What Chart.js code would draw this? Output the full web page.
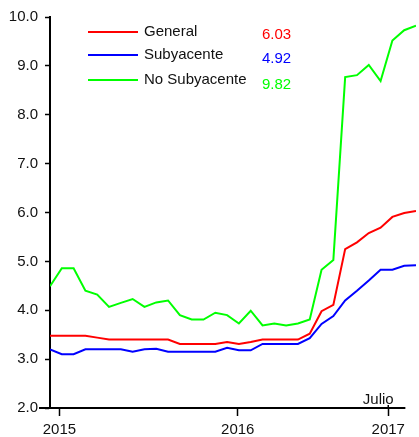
<!DOCTYPE html>
<html>
<head>
<meta charset="utf-8">
<script src="https://cdn.jsdelivr.net/npm/chart.js@4"></script>
<style>
  html, body { margin: 0; padding: 0; background: #fff; }
  canvas { display: block; }
</style>
</head>
<body>
<canvas id="grafico" width="419" height="437"></canvas>
<script>
// series (una observación por mes)
const general = [3.48, 3.48, 3.48, 3.48, 3.44, 3.40, 3.40, 3.40, 3.40, 3.40, 3.40, 3.31, 3.31, 3.31, 3.31, 3.35,
                 3.31, 3.35, 3.40, 3.40, 3.40, 3.40, 3.52, 3.98, 4.11, 5.25, 5.39, 5.58, 5.69, 5.91, 5.99, 6.03];
const subyacente = [3.20, 3.10, 3.10, 3.20, 3.20, 3.20, 3.20, 3.15, 3.20, 3.21, 3.15, 3.15, 3.15, 3.15, 3.15, 3.23,
                    3.18, 3.18, 3.31, 3.31, 3.31, 3.31, 3.43, 3.72, 3.88, 4.20, 4.40, 4.61, 4.83, 4.83, 4.91, 4.92];
const noSubyacente = [4.49, 4.86, 4.86, 4.40, 4.32, 4.07, 4.15, 4.23, 4.07, 4.16, 4.20, 3.90, 3.81, 3.81, 3.95, 3.90,
                      3.73, 3.99, 3.69, 3.73, 3.69, 3.73, 3.81, 4.83, 5.03, 8.77, 8.81, 9.02, 8.69, 9.52, 9.73, 9.82];

const nombres = ['General', 'Subyacente', 'No Subyacente'];
const colores = ['#ff0000', '#0000ff', '#00ff00'];

// etiquetas del eje x y su posición (en meses desde el primer dato)
const anios = ['2015', '2016', '2017'];
const posAnios = [0.8, 15.9, 28.65];
const notaMes = 'Julio';

const fuente = 'Liberation Sans, Arial, sans-serif';
const series = [general, subyacente, noSubyacente];

const aPuntos = arr => arr.map((v, i) => ({ x: i, y: v }));

// dibuja eje x, leyenda con último valor y la nota "Julio"
const extras = {
    id: 'extras',
    afterDraw(chart) {
        const ctx = chart.ctx;
        const area = chart.chartArea;
        const xs = chart.scales.x;
        ctx.save();
        ctx.strokeStyle = '#000';
        ctx.lineWidth = 2;
        ctx.beginPath();
        ctx.moveTo(39, area.bottom);
        ctx.lineTo(xs.getPixelForValue(30.1), area.bottom);
        ctx.stroke();

        // marca que cruza el eje en julio
        const xj = xs.getPixelForValue(posAnios[2]);
        ctx.lineWidth = 1.5;
        ctx.beginPath();
        ctx.moveTo(xj, area.bottom - 3);
        ctx.lineTo(xj, area.bottom);
        ctx.stroke();

        ctx.fillStyle = '#111';
        ctx.font = '15px ' + fuente;
        ctx.textAlign = 'center';
        ctx.textBaseline = 'alphabetic';
        ctx.fillText(notaMes, xj - 10, 404);

        // leyenda
        const filas = [32, 55, 80];
        ctx.font = '15px ' + fuente;
        ctx.textBaseline = 'middle';
        series.forEach((s, i) => {
            ctx.strokeStyle = colores[i];
            ctx.lineWidth = 2;
            ctx.beginPath();
            ctx.moveTo(88, filas[i]);
            ctx.lineTo(138, filas[i]);
            ctx.stroke();
            ctx.textAlign = 'left';
            ctx.fillStyle = '#111';
            ctx.fillText(nombres[i], 144, filas[i]);
            ctx.fillStyle = colores[i];
            ctx.fillText(s[s.length - 1].toFixed(2), 262, filas[i] + 3 + i);
        });
        ctx.restore();
    }
};

new Chart(document.getElementById('grafico'), {
    type: 'line',
    data: {
        datasets: series.map((s, i) => ({
            label: nombres[i],
            data: aPuntos(s),
            borderColor: colores[i],
            backgroundColor: colores[i],
            borderWidth: 2,
            pointRadius: 0,
            tension: 0
        }))
    },
    options: {
        responsive: false,
        animation: false,
        layout: { padding: { top: 17, right: 3, left: 0, bottom: 0 } },
        plugins: { legend: { display: false }, tooltip: { enabled: false } },
        scales: {
            x: {
                type: 'linear',
                min: 0,
                max: general.length - 1,
                afterFit: s => { s.height = 29; },
                afterBuildTicks: s => { s.ticks = posAnios.map(v => ({ value: v })); },
                border: { display: false },
                grid: { drawOnChartArea: false, drawTicks: true, tickLength: 8, tickColor: '#000', tickWidth: 1.5 },
                ticks: {
                    autoSkip: false,
                    maxRotation: 0,
                    padding: 5,
                    color: '#111',
                    font: { family: fuente, size: 15 },
                    callback: (v, i) => anios[i]
                }
            },
            y: {
                min: 2,
                max: 10,
                afterFit: s => { s.width = 50; },
                border: { display: true, color: '#000', width: 2 },
                grid: { drawOnChartArea: false, drawTicks: true, tickLength: 5, tickColor: '#000', tickWidth: 1.5 },
                ticks: {
                    stepSize: 1,
                    padding: 7,
                    color: '#111',
                    font: { family: fuente, size: 15 },
                    callback: v => v.toFixed(1)
                }
            }
        }
    },
    plugins: [extras]
});
</script>
</body>
</html>
